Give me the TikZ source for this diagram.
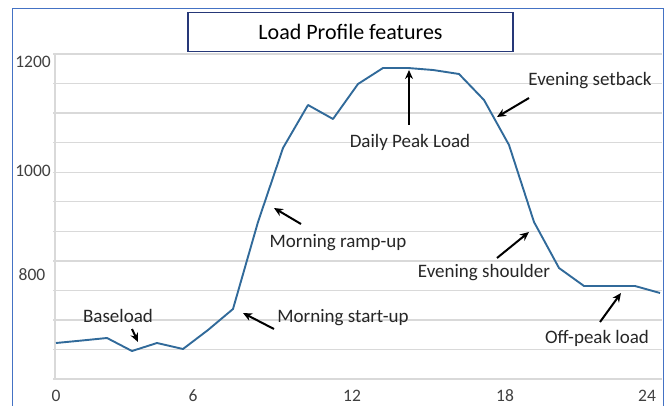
\documentclass[tikz,border=0pt]{standalone}
\usepackage{fontspec}
\setmainfont{Carlito}
\usetikzlibrary{arrows.meta}
\definecolor{excelblue}{RGB}{68,114,196}
\definecolor{loadline}{RGB}{49,106,154}
\definecolor{titleframe}{RGB}{38,56,120}
\definecolor{gridgray}{RGB}{217,217,217}
\definecolor{axistext}{RGB}{64,64,64}

\begin{document}
\begin{tikzpicture}[
    x=1pt, y=-1pt,
    feature/.style={anchor=base,inner sep=0pt,font=\fontsize{19}{22}\selectfont,text=black!85},
    axislabel/.style={anchor=base,inner sep=0pt,font=\fontsize{17.5}{20}\selectfont,text=axistext},
    callout/.style={-{Stealth[length=9pt,width=8pt]},line width=2pt,black},
    >=Stealth
]
\useasboundingbox (0,0) rectangle (666,406);
\draw[excelblue,line width=1.6pt] (12.5,406) -- (12.5,8.5) -- (663.5,8.5) -- (663.5,406);

% grid
\foreach \k in {0,...,11}
  \draw[gridgray,line width=1.3pt] (53,{54+29.55*\k}) -- (662,{54+29.55*\k});
\draw[gridgray,line width=1.3pt] (55,54) -- (55,379);

\node[draw=titleframe,line width=1.5pt,minimum width=325pt,minimum height=39pt,
      inner sep=0pt,font=\fontsize{22}{26}\selectfont] (title) at (350.5,32) {Load Profile features};

\node[axislabel] (y1200) at (33,68) {1200};
\node[axislabel] (y1000) at (33,176) {1000};
\node[axislabel] (y800) at (32,280) {800};
\node[axislabel] (x0) at (56,401) {0};
\node[axislabel] (x6) at (193,401) {6};
\node[axislabel] (x12) at (352,401) {12};
\node[axislabel] (x18) at (505,401) {18};
\node[axislabel] (x24) at (647,401) {24};

% load profile
\draw[loadline,line width=1.9pt,line join=round]
  (56,343) -- (82,340.5) -- (107,338) -- (132,351) -- (157,343) -- (183,349)
  -- (208,330) -- (233,309) -- (258,222) -- (283,148) -- (308,105) -- (333,119)
  -- (358,84) -- (383,68) -- (408,68) -- (433,70) -- (459,74) -- (484,100)
  -- (509,145) -- (534,222) -- (559,268) -- (584,286) -- (609,286) -- (635,286)
  -- (660,293);

\node[feature] (peak) at (410,148) {Daily Peak Load};
\node[feature] (setback) at (590,86) {Evening setback};
\node[feature] (rampup) at (338,247) {Morning ramp-up};
\node[feature] (shoulder) at (484,277) {Evening shoulder};
\node[feature] (baseload) at (118,322) {Baseload};
\node[feature] (startup) at (343,322) {Morning start-up};
\node[feature] (offpeak) at (597,343) {Off-peak load};

\coordinate (peak-from) at (409,125);
\coordinate (peak-to) at (409,70);
\coordinate (setback-from) at (529,98);
\coordinate (setback-to) at (497,117);
\coordinate (rampup-from) at (301,224);
\coordinate (rampup-to) at (274,208);
\coordinate (shoulder-from) at (497,258);
\coordinate (shoulder-to) at (529,232);
\coordinate (baseload-from) at (132,329);
\coordinate (baseload-to) at (138,342);
\coordinate (startup-from) at (274,329);
\coordinate (startup-to) at (243,313);
\coordinate (offpeak-from) at (600,322);
\coordinate (offpeak-to) at (621,293);

\draw[callout] (peak-from) -- (peak-to);
\draw[callout] (setback-from) -- (setback-to);
\draw[callout] (rampup-from) -- (rampup-to);
\draw[callout] (shoulder-from) -- (shoulder-to);
\draw[callout] (baseload-from) -- (baseload-to);
\draw[callout] (startup-from) -- (startup-to);
\draw[callout] (offpeak-from) -- (offpeak-to);
\end{tikzpicture}
\end{document}
